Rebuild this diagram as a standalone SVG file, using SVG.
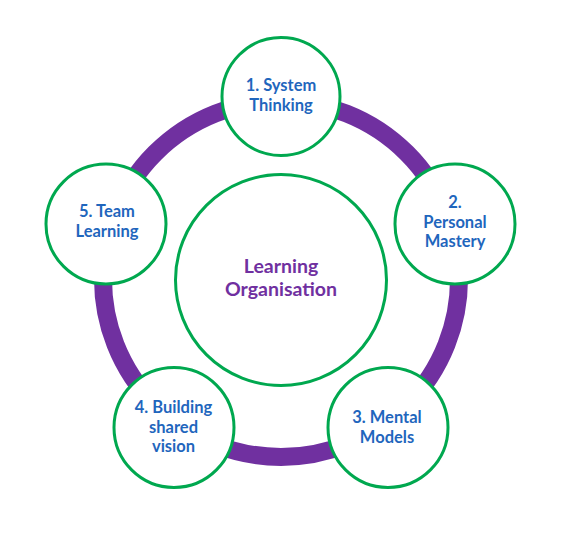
<svg xmlns="http://www.w3.org/2000/svg" width="568" height="537" viewBox="0 0 568 537">
<style>
.node{fill:#ffffff;stroke:#00A84F;stroke-width:3}
.t{font-family:Lato,"Open Sans","Liberation Sans",sans-serif;font-weight:bold;font-size:16.5px;fill:#1F66BD;text-anchor:middle}
.c{font-family:Lato,"Open Sans","Liberation Sans",sans-serif;font-weight:bold;font-size:19.5px;fill:#7030A0;text-anchor:middle}
</style>
<rect width="568" height="537" fill="#ffffff"/>
<g id="connectors">
<circle cx="281" cy="279" r="178" fill="none" stroke="#7030A0" stroke-width="18"/>
</g>
<g id="center">
<circle class="node" cx="281" cy="280" r="105.5"/>
<text class="c" x="281" y="273">Learning</text>
<text class="c" x="281" y="296">Organisation</text>
</g>
<g id="n1">
<circle class="node" cx="281" cy="96.5" r="59"/>
<text class="t" x="281" y="91">1. System</text>
<text class="t" x="281" y="111">Thinking</text>
</g>
<g id="n2">
<circle class="node" cx="455" cy="224" r="60"/>
<text class="t" x="455" y="208">2.</text>
<text class="t" x="455" y="228">Personal</text>
<text class="t" x="455" y="247">Mastery</text>
</g>
<g id="n3">
<circle class="node" cx="388" cy="427.5" r="60"/>
<text class="t" x="387" y="423">3. Mental</text>
<text class="t" x="387" y="443">Models</text>
</g>
<g id="n4">
<circle class="node" cx="174" cy="427.5" r="60"/>
<text class="t" x="173.5" y="413">4. Building</text>
<text class="t" x="173.5" y="433">shared</text>
<text class="t" x="173.5" y="452">vision</text>
</g>
<g id="n5">
<circle class="node" cx="106" cy="224" r="60"/>
<text class="t" x="107" y="217">5. Team</text>
<text class="t" x="107" y="237">Learning</text>
</g>
</svg>
